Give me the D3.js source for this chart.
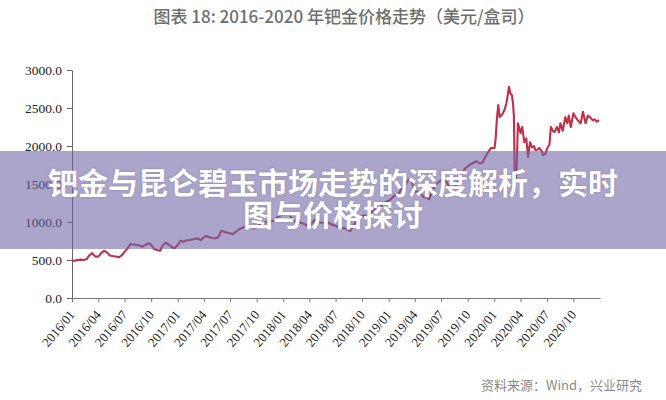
<!DOCTYPE html>
<html>
<head>
<meta charset="utf-8">
<script src="https://cdn.jsdelivr.net/npm/d3@7"></script>
<style>
  html, body { margin: 0; padding: 0; background: #fff; }
  svg { display: block; }
</style>
</head>
<body>
<svg id="chart" width="666" height="400"></svg>
<script>
const titleText = "图表 18: 2016-2020 年钯金价格走势（美元/盒司）";
const sourceText = "资料来源：Wind，兴业研究";
const bannerLines = ["钯金与昆仑碧玉市场走势的深度解析，实时", "图与价格探讨"];

const yTicks = [0, 500, 1000, 1500, 2000, 2500, 3000];
const xTickLabels = ["2016/01","2016/04","2016/07","2016/10","2017/01","2017/04","2017/07","2017/10",
  "2018/01","2018/04","2018/07","2018/10","2019/01","2019/04","2019/07","2019/10",
  "2020/01","2020/04","2020/07","2020/10"];

const dates = [
  "2016-01-01","2016-01-11","2016-01-21","2016-02-01","2016-02-11","2016-02-21",
  "2016-03-01","2016-03-11","2016-03-21","2016-04-01","2016-04-11","2016-04-21",
  "2016-05-01","2016-05-11","2016-05-21","2016-06-01","2016-06-11","2016-06-21",
  "2016-07-01","2016-07-11","2016-07-21","2016-08-01","2016-08-11","2016-08-21",
  "2016-09-01","2016-09-11","2016-09-21","2016-10-01","2016-10-11","2016-10-21",
  "2016-11-01","2016-11-11","2016-11-21","2016-12-01","2016-12-11","2016-12-21",
  "2017-01-01","2017-01-11","2017-01-21","2017-02-01","2017-02-11","2017-02-21",
  "2017-03-01","2017-03-11","2017-03-21","2017-04-01","2017-04-11","2017-04-21",
  "2017-05-01","2017-05-11","2017-05-21","2017-06-01","2017-06-11","2017-06-21",
  "2017-07-01","2017-07-11","2017-07-21","2017-08-01","2017-08-11","2017-08-21",
  "2017-09-01","2017-09-11","2017-09-21","2017-10-01","2017-10-11","2017-10-21",
  "2017-11-01","2017-11-11","2017-11-21","2017-12-01","2017-12-11","2017-12-21",
  "2018-01-01","2018-01-11","2018-01-21","2018-02-01","2018-02-11","2018-02-21",
  "2018-03-01","2018-03-11","2018-03-21","2018-04-01","2018-04-11","2018-04-21",
  "2018-05-01","2018-05-11","2018-05-21","2018-06-01","2018-06-11","2018-06-21",
  "2018-07-01","2018-07-11","2018-07-21","2018-08-01","2018-08-11","2018-08-21",
  "2018-09-01","2018-09-11","2018-09-21","2018-10-01","2018-10-11","2018-10-21",
  "2018-11-01","2018-11-11","2018-11-21","2018-12-01","2018-12-11","2018-12-21",
  "2019-01-01","2019-01-11","2019-01-21","2019-02-01","2019-02-11","2019-02-21",
  "2019-03-01","2019-03-11","2019-03-21","2019-04-01","2019-04-11","2019-04-21",
  "2019-05-01","2019-05-11","2019-05-21","2019-06-01","2019-06-11","2019-06-21",
  "2019-07-01","2019-07-11","2019-07-21","2019-08-01","2019-08-11","2019-08-21",
  "2019-09-01","2019-09-11","2019-09-21","2019-10-01","2019-10-11","2019-10-21",
  "2019-11-01","2019-11-11","2019-11-21","2019-12-01","2019-12-11","2019-12-21",
  "2020-01-02","2020-01-06","2020-01-10","2020-01-15","2020-01-20","2020-01-25",
  "2020-01-31","2020-02-06","2020-02-12","2020-02-18","2020-02-21","2020-02-26",
  "2020-03-02","2020-03-06","2020-03-09","2020-03-12","2020-03-16","2020-03-19",
  "2020-03-23","2020-03-27","2020-04-01","2020-04-07","2020-04-14","2020-04-21",
  "2020-04-27","2020-05-04","2020-05-11","2020-05-18","2020-05-22","2020-05-29",
  "2020-06-05","2020-06-12","2020-06-19","2020-06-26","2020-07-03","2020-07-10",
  "2020-07-15","2020-07-22","2020-07-28","2020-08-05","2020-08-12","2020-08-17",
  "2020-08-25","2020-09-03","2020-09-10","2020-09-15","2020-09-22","2020-10-01",
  "2020-10-08","2020-10-16","2020-10-26","2020-11-03","2020-11-09","2020-11-12",
  "2020-11-20","2020-11-27","2020-12-07","2020-12-14","2020-12-21","2020-12-29"
];

const prices = [
  487, 492, 500, 505, 500, 512,
  560, 590, 548, 545, 590, 622,
  600, 560, 552, 545, 535, 560,
  610, 650, 710, 705, 700, 690,
  675, 700, 720, 700, 645, 632,
  622, 700, 728, 700, 670, 654,
  700, 754, 740, 760, 763, 770,
  780, 785, 760, 800, 816, 800,
  790, 785, 800, 886, 870, 860,
  851, 840, 870, 904, 920, 938,
  950, 930, 915, 930, 965, 975,
  1000, 990, 1010, 1020, 1060, 1080,
  1100, 1100, 1110, 1030, 1000, 1030,
  990, 980, 960, 950, 990, 1030,
  1000, 990, 990, 1000, 980, 960,
  950, 930, 920, 920, 900, 880,
  960, 1000, 1060, 1080, 1090, 1080,
  1120, 1170, 1150, 1180, 1240, 1260,
  1280, 1310, 1350, 1350, 1420, 1450,
  1500, 1560, 1550, 1400, 1400, 1380,
  1330, 1320, 1300, 1410, 1480, 1520,
  1550, 1560, 1520, 1450, 1440, 1480,
  1560, 1620, 1700, 1730, 1760, 1780,
  1800, 1770, 1780, 1855, 1920, 1974,
  1974, 2100, 2350, 2540, 2380, 2400,
  2430, 2480, 2560, 2700, 2780, 2690,
  2670, 2560, 2400, 1600, 1550, 1750,
  2300, 2250, 2170, 2250, 2050, 2100,
  1855, 2050, 1980, 2000, 1947, 1950,
  1974, 1940, 1880, 1900, 1974, 2020,
  2250, 2200, 2184, 2250, 2180, 2300,
  2200, 2380, 2300, 2400, 2250, 2430,
  2380, 2340, 2300, 2450, 2350, 2300,
  2400, 2380, 2340, 2350, 2320, 2340
];

const parseDay = d3.timeParse("%Y-%m-%d");
const parseMonth = d3.timeParse("%Y/%m");
const data = dates.map((d, i) => ({ date: parseDay(d), v: prices[i] }));

const svg = d3.select("#chart");

const x = d3.scaleTime()
  .domain([parseDay("2016-01-01"), parseDay("2021-01-01")])
  .range([72, 600]);
const y = d3.scaleLinear().domain([0, 3000]).range([298, 70]);

// title
svg.append("text")
  .attr("x", 344).attr("y", 23)
  .attr("text-anchor", "middle")
  .attr("font-family", "'Noto Sans CJK SC', 'Noto Sans', sans-serif")
  .attr("font-size", 17)
  .attr("font-weight", 500)
  .attr("fill", "#6e6e6e")
  .text(titleText);

// y axis
const yAxis = svg.append("g")
  .attr("transform", "translate(72,0)")
  .call(d3.axisLeft(y).tickValues(yTicks).tickSize(5).tickSizeOuter(0).tickFormat(d3.format(".1f")));
yAxis.select(".domain").attr("stroke", "#666");
yAxis.selectAll(".tick line").attr("stroke", "#666");
yAxis.selectAll(".tick text")
  .attr("x", -10)
  .attr("font-family", "'Liberation Serif', 'Times New Roman', serif")
  .attr("font-size", 13.5)
  .attr("fill", "#222");

// x axis
const xAxis = svg.append("g")
  .attr("transform", "translate(0,298)")
  .call(d3.axisBottom(x).tickValues(xTickLabels.map(parseMonth)).tickSize(4).tickSizeOuter(0)
    .tickFormat(d3.timeFormat("%Y/%m")));
xAxis.select(".domain").attr("stroke", "#777");
xAxis.selectAll(".tick line").attr("stroke", "#777");
xAxis.selectAll(".tick text")
  .attr("y", 0).attr("dy", 0)
  .attr("text-anchor", "end")
  .attr("transform", "translate(3,17) rotate(-50)")
  .attr("font-family", "'Liberation Serif', 'Times New Roman', serif")
  .attr("font-size", 13)
  .attr("fill", "#222");

// price line
svg.append("path")
  .datum(data)
  .attr("fill", "none")
  .attr("stroke", "#c0304a")
  .attr("stroke-width", 2.1)
  .attr("stroke-linejoin", "round")
  .attr("d", d3.line().x(d => x(d.date)).y(d => y(d.v)));

// source
svg.append("text")
  .attr("x", 642).attr("y", 390)
  .attr("text-anchor", "end")
  .attr("font-family", "'Noto Sans CJK SC', 'Noto Sans', sans-serif")
  .attr("font-size", 13)
  .attr("fill", "#8a8a8a")
  .text(sourceText);

// overlay banner
svg.append("rect")
  .attr("x", 0).attr("y", 151).attr("width", 666).attr("height", 98)
  .attr("fill", "rgb(110,100,165)")
  .attr("fill-opacity", 0.58);

svg.selectAll("text.banner")
  .data(bannerLines)
  .enter().append("text")
  .attr("class", "banner")
  .attr("x", 333)
  .attr("y", (d, i) => 194 + i * 32)
  .attr("text-anchor", "middle")
  .attr("font-family", "'Noto Sans CJK SC', sans-serif")
  .attr("font-size", 30)
  .attr("font-weight", 700)
  .attr("fill", "#fff")
  .style("text-shadow", "0 0 2px rgba(60,50,90,0.35)")
  .text(d => d);
</script>
</body>
</html>
